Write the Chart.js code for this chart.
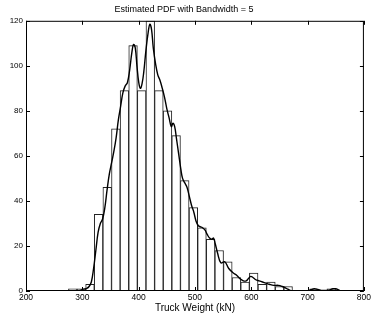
<!DOCTYPE html>
<html>
<head>
<meta charset="utf-8">
<script src="https://cdn.jsdelivr.net/npm/chart.js@4.4.1/dist/chart.umd.min.js"></script>
<style>
  html, body { margin: 0; padding: 0; background: #fff; }
  #wrap { width: 373px; height: 324px; }
</style>
</head>
<body>
<div id="wrap"><canvas id="pdf"></canvas></div>
<script>
// histogram bins (centre of bin, kN) and counts
const binCenters = [283, 298.3, 313.6, 328.9, 344.2, 359.5, 374.8, 390.1, 405.4, 420.7,
  436, 451.3, 466.6, 481.9, 497.2, 512.5, 527.8, 543.1, 558.4, 573.7,
  589, 604.3, 619.6, 634.9, 650.2, 665.5, 680.8, 696.1, 711.4, 726.7, 742, 757.3];
const binCounts = [1, 1, 3, 34, 46, 72, 89, 109, 89, 120,
  89, 80, 69, 49, 37, 28, 23, 18, 13, 6,
  4, 8, 3, 4, 2, 2, 0, 0, 1, 0, 1, 0];

// kernel density estimate (scaled to counts)
const kdeX = [200, 280, 295, 302, 308, 312, 316, 320, 324, 328, 332, 336, 340, 344, 348, 352, 356, 360, 364, 368,
  372, 376, 380, 384, 388, 391, 394, 397, 400, 403, 406, 409, 413, 417, 420, 423, 426, 430, 434, 438,
  442, 446, 450, 454, 458, 461, 464, 467, 471, 475, 478, 482, 486, 490, 494, 498, 502, 506, 510, 514,
  518, 522, 526, 530, 533, 536, 540, 546, 553, 560, 568, 574, 580, 586, 591, 595, 599, 603, 608, 614,
  620, 626, 632, 640, 648, 655, 662, 668, 672, 700, 706, 712, 718, 724, 730, 738, 745, 750, 755, 760, 800];
const kdeY = [0, 0, 0.3, 0.8, 1.2, 2, 4, 10, 18, 26, 30, 32, 37, 45, 52, 57, 62, 68, 76, 82,
  88, 91, 92.5, 98, 106, 109.5, 108, 100, 93, 90, 92, 97, 107, 115, 118.5, 116, 108, 101, 96, 93.5,
  90, 86, 81, 77, 73, 74.5, 73, 68, 61, 54, 50, 48, 46, 42, 38, 35, 31, 29, 28.5, 28,
  27, 25, 23.5, 23, 23.5, 21, 17, 12.5, 13, 10, 8, 7, 5.5, 4.5, 4.5, 5.5, 6.5, 6, 5, 4.5,
  4, 3.5, 3, 2.5, 2.5, 2, 1.2, 0.4, 0, 0, 0.6, 1, 0.6, 0.3, 0.2, 0.4, 1, 1, 0.5, 0, 0];

const xTicks = [200, 300, 400, 500, 600, 700, 800];
const yTicks = [0, 20, 40, 60, 80, 100, 120];

const FONT = 'Liberation Sans, Arial, sans-serif';

// MATLAB-like box with inward ticks on all four sides
const boxAxes = {
  id: 'boxAxes',
  afterDraw(chart) {
    const { ctx, chartArea: a, scales } = chart;
    ctx.save();
    ctx.strokeStyle = '#000';
    ctx.lineWidth = 1;
    ctx.strokeRect(a.left + 0.5, a.top + 0.5, a.right - a.left - 1, a.bottom - a.top - 1);
    const tl = 4;
    ctx.beginPath();
    xTicks.forEach(v => {
      const px = Math.round(scales.x.getPixelForValue(v)) + 0.5;
      ctx.moveTo(px, a.bottom); ctx.lineTo(px, a.bottom - tl);
      ctx.moveTo(px, a.top); ctx.lineTo(px, a.top + tl);
    });
    yTicks.forEach(v => {
      const py = Math.round(scales.y.getPixelForValue(v)) + 0.5;
      ctx.moveTo(a.left, py); ctx.lineTo(a.left + tl, py);
      ctx.moveTo(a.right, py); ctx.lineTo(a.right - tl, py);
    });
    ctx.stroke();
    ctx.restore();
  }
};

new Chart(document.getElementById('pdf').getContext('2d'), {
  type: 'bar',
  data: {
    datasets: [{
      type: 'line',
      data: kdeX.map((x, i) => ({ x: x, y: kdeY[i] })),
      borderColor: '#000',
      borderWidth: 1.4,
      pointRadius: 0,
      tension: 0.4,
      fill: false
    }, {
      type: 'bar',
      data: binCenters.map((x, i) => ({ x: x, y: binCounts[i] })).filter(d => d.y > 0),
      backgroundColor: '#fff',
      borderColor: '#222',
      borderWidth: 1,
      borderSkipped: false,
      barPercentage: 1,
      categoryPercentage: 1,
      grouped: false
    }]
  },
  options: {
    responsive: true,
    maintainAspectRatio: false,
    animation: false,
    layout: { padding: { left: 0, right: 5, top: 0, bottom: 10 } },
    plugins: {
      legend: { display: false },
      tooltip: { enabled: false },
      title: {
        display: true,
        text: 'Estimated PDF with Bandwidth = 5',
        color: '#000',
        font: { family: FONT, size: 9, weight: 'normal' },
        padding: { top: 4, bottom: 6 }
      }
    },
    scales: {
      x: {
        type: 'linear',
        offset: false,
        min: 200, max: 800,
        afterBuildTicks: s => { s.ticks = xTicks.map(v => ({ value: v })); },
        afterFit: s => { s.height = 23; },
        grid: { display: false, drawTicks: false, offset: false },
        border: { display: false },
        ticks: { color: '#000', font: { family: FONT, size: 8.5 }, padding: 2, maxRotation: 0 },
        title: {
          display: true,
          text: 'Truck Weight (kN)',
          color: '#000',
          font: { family: FONT, size: 10 },
          padding: { top: 0, bottom: 0 }
        }
      },
      y: {
        min: 0, max: 120,
        afterBuildTicks: s => { s.ticks = yTicks.map(v => ({ value: v })); },
        afterFit: s => { s.width = 26; },
        grid: { display: false, drawTicks: false },
        border: { display: false },
        ticks: { color: '#000', font: { family: FONT, size: 8 }, padding: 3 }
      }
    }
  },
  plugins: [boxAxes]
});
</script>
</body>
</html>
